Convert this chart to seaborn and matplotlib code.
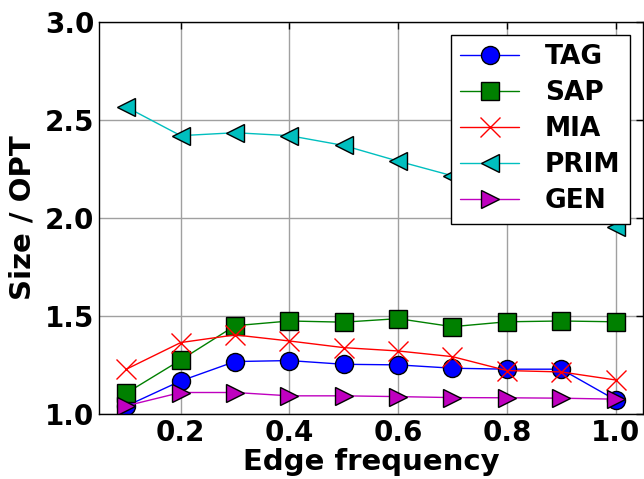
import pandas as pd
import numpy as np
import matplotlib
matplotlib.use('Agg')
import matplotlib.pyplot as plt
import seaborn as sns

freq = [0.1, 0.2, 0.3, 0.4, 0.5, 0.6, 0.7, 0.8, 0.9, 1.0]
tag = [1.04, 1.168, 1.267, 1.272, 1.253, 1.25, 1.233, 1.228, 1.228, 1.071]
sap = [1.106, 1.275, 1.45, 1.474, 1.468, 1.486, 1.445, 1.47, 1.474, 1.47]
mia = [1.228, 1.364, 1.403, 1.372, 1.338, 1.321, 1.292, 1.221, 1.214, 1.173]
prim = [2.566, 2.42, 2.435, 2.42, 2.37, 2.29, 2.215, 2.15, 2.07, 1.955]
gen = [1.041, 1.109, 1.109, 1.092, 1.092, 1.088, 1.083, 1.082, 1.08, 1.075]

algos = ['TAG', 'SAP', 'MIA', 'PRIM', 'GEN']
series = [tag, sap, mia, prim, gen]

df = pd.DataFrame({
    'freq': np.tile(freq, len(algos)),
    'ratio': np.concatenate(series),
    'algo': np.repeat(algos, len(freq)),
})

sns.set_style('white')
plt.rcParams['font.family'] = ['DejaVu Sans']
plt.rcParams['font.weight'] = 'bold'
plt.rcParams['xtick.direction'] = 'in'
plt.rcParams['ytick.direction'] = 'in'
plt.rcParams['text.color'] = 'black'
plt.rcParams['axes.labelcolor'] = 'black'
plt.rcParams['xtick.color'] = 'black'
plt.rcParams['ytick.color'] = 'black'

colors = {'TAG': 'b', 'SAP': 'g', 'MIA': 'r', 'PRIM': 'c', 'GEN': 'm'}
marks = {'TAG': 'o', 'SAP': 's', 'MIA': 'x', 'PRIM': '<', 'GEN': '>'}

fig = plt.figure(figsize=(6.44, 4.79), dpi=100)
ax = fig.add_axes([0.154, 0.136, 0.844, 0.818])

for a in algos:
    sub = df[df['algo'] == a]
    sns.lineplot(data=sub, x='freq', y='ratio', ax=ax, color=colors[a],
                 marker=marks[a], markersize=13 if a != 'MIA' else 15,
                 markeredgecolor='k' if a != 'MIA' else colors[a],
                 markeredgewidth=1, linewidth=1, label=a)

ax.set_xlim(0.05, 1.05)
ax.set_ylim(1.0, 3.0)
ax.set_xticks([0.2, 0.4, 0.6, 0.8, 1.0])
ax.set_yticks([1.0, 1.5, 2.0, 2.5, 3.0])
ax.tick_params(labelsize=20, top=True, right=True, length=5, width=1,
               colors='black')
for lab in ax.get_xticklabels() + ax.get_yticklabels():
    lab.set_fontweight('bold')
ax.grid(True, color='#a0a0a0', linewidth=1)
for sp in ax.spines.values():
    sp.set_color('k')
    sp.set_linewidth(1)

ax.set_xlabel('Edge frequency', fontsize=21, fontweight='bold', labelpad=1,
              color='black')
ax.set_ylabel('Size / OPT', fontsize=21, fontweight='bold', labelpad=6,
              color='black')

leg = ax.legend(loc='upper right', bbox_to_anchor=(0.976, 0.967),
                prop={'weight': 'bold', 'size': 19}, frameon=True, fancybox=False,
                edgecolor='k', framealpha=1, handlelength=2.2, borderpad=0.35,
                labelspacing=0.38, handletextpad=1.0, borderaxespad=0)
leg.get_frame().set_linewidth(1)
for t in leg.get_texts():
    t.set_color('black')

fig.savefig('out.png', dpi=100)
